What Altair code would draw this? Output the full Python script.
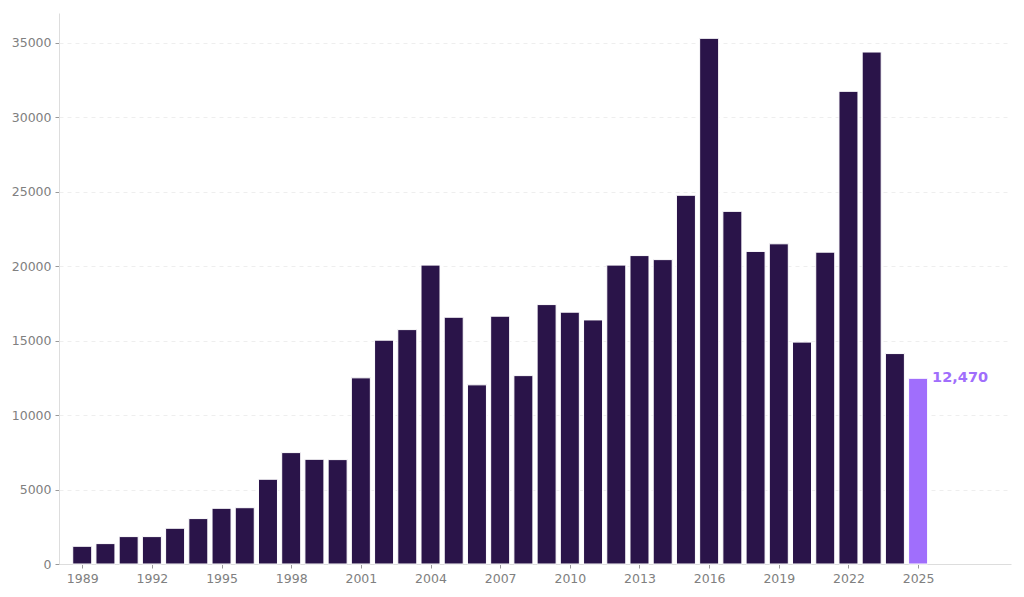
import altair as alt
import pandas as pd

years = list(range(1989, 2026))
values = [1190, 1370, 1840, 1840, 2400, 3050, 3740, 3780, 5690, 7480,
          7030, 7010, 12500, 15030, 15740, 20070, 16570, 12030, 16640, 12650,
          17420, 16910, 16390, 20070, 20710, 20440, 24760, 35300, 23680, 20990,
          21500, 14900, 20940, 31740, 34380, 14130, 12470]
highlight_year = 2025
highlight_label = "12,470"
tick_years = [1989, 1992, 1995, 1998, 2001, 2004, 2007, 2010, 2013, 2016, 2019, 2022, 2025]

df = pd.DataFrame({"year": years, "value": values})
df["hl"] = df["year"] == highlight_year
lab = pd.DataFrame({"year": [highlight_year], "value": [values[-1]], "label": [highlight_label]})

font = "DejaVu Sans"
x = alt.X("year:Q", scale=alt.Scale(domain=[1988, 2029], nice=False, zero=False, padding=0),
          axis=alt.Axis(values=tick_years, format="d", title=None, grid=False,
                        labelColor="#808080", labelFontSize=12.5, labelFont=font,
                        tickColor="#999999", tickSize=4, domainColor="#dddddd", labelPadding=4))
y = alt.Y("value:Q", scale=alt.Scale(domain=[0, 37000], nice=False),
          axis=alt.Axis(values=[0, 5000, 10000, 15000, 20000, 25000, 30000, 35000], format="d",
                        title=None, labelColor="#808080", labelFontSize=12.5, labelFont=font,
                        tickColor="#999999", tickSize=4, domainColor="#dddddd",
                        gridColor="#eeeeee", gridDash=[4, 4], labelPadding=4,
                        minExtent=44, maxExtent=44))

bars = alt.Chart(df).mark_bar(size=19, stroke="white", strokeWidth=1).encode(
    x=x, y=y,
    color=alt.Color("hl:N", scale=alt.Scale(domain=[False, True], range=["#2a1449", "#a06efc"]), legend=None),
)
text = alt.Chart(lab).mark_text(align="left", baseline="middle", dx=14, fontSize=14.5,
                                fontWeight="bold", font=font, color="#a06efc").encode(
    x="year:Q", y="value:Q", text="label:N")

chart = (bars + text).properties(
    width=952, height=551, background="white",
    padding={"left": 3, "top": 5, "right": 5, "bottom": 5},
).configure_view(stroke=None, strokeWidth=0)

chart.save("out.html", embed_options={"renderer": "svg", "actions": False})
